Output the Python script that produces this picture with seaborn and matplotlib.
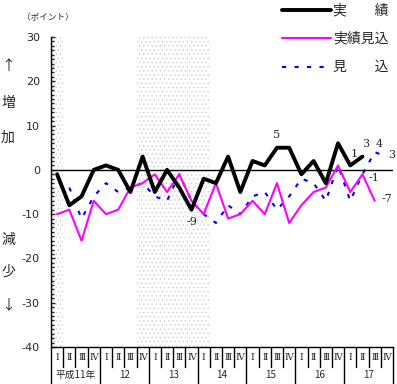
import matplotlib
matplotlib.use('Agg')
import matplotlib.pyplot as plt
from matplotlib.lines import Line2D
from matplotlib.ticker import MultipleLocator
import pandas as pd
import seaborn as sns

# 四半期ラベル
years = ['平成11年', '12', '13', '14', '15', '16', '17']
quarters = ['Ⅰ', 'Ⅱ', 'Ⅲ', 'Ⅳ']

# 実績 (平成11年Ⅰ期から)
jisseki = [-1, -8, -6, 0, 1, 0, -5, 3, -5, 0, -4, -9, -2, -3, 3, -5, 2, 1,
           5, 5, -1, 2, -3, 6, 1, 3]
# 実績見込 (平成11年Ⅰ期から)
jisseki_mikomi = [-10, -9, -16, -7, -10, -9, -4, -3, -1, -5, -1, -7, -10, -3,
                  -11, -10, -7, -10, -3, -12, -8, -5, -4, 1, -5, -1, -7]
# 見込 (平成11年Ⅱ期から)
mikomi = [-4, -11, -6, -3, -5, -4, -3, -6, -7, -1, -7, -10, -12, -8, -10, -6,
          -5, -9, -6, -2, -3, -7, 1, -7, -1, 4, 3]
mikomi_start = 1

# 景気後退期 (四半期番号、両端含む)
recessions = [(0, 0), (7, 12)]

JP = 'Noto Sans CJK JP'


def main():
    sns.set_style('white')
    plt.rcParams['font.family'] = ['DejaVu Sans', JP]

    n_q = len(years) * len(quarters)
    df1 = pd.DataFrame({'q': range(len(jisseki)), 'v': jisseki})
    df2 = pd.DataFrame({'q': range(len(jisseki_mikomi)), 'v': jisseki_mikomi})
    df3 = pd.DataFrame({'q': range(mikomi_start, mikomi_start + len(mikomi)), 'v': mikomi})

    fig = plt.figure(figsize=(3.97, 3.84), dpi=100)
    ax = fig.add_axes([51 / 397, 37 / 384, 342 / 397, 310 / 384])

    plt.rcParams['hatch.linewidth'] = 0.5
    for a, b in recessions:
        ax.axvspan(a - 0.5, b + 0.5, facecolor='white', edgecolor='#cdcdcd',
                   hatch='....', lw=0, zorder=0)

    ax.axhline(0, color='black', lw=1, zorder=1)

    sns.lineplot(data=df3, x='q', y='v', ax=ax, color='#0000ff', lw=1.5,
                 linestyle=(0, (2, 4)), zorder=2)
    sns.lineplot(data=df2, x='q', y='v', ax=ax, color='#ff00ff', lw=1.5, zorder=3)
    sns.lineplot(data=df1, x='q', y='v', ax=ax, color='black', lw=2.8, zorder=4)

    ax.set_xlim(-0.5, n_q - 0.5)
    ax.set_ylim(-40, 30)
    ax.set_xlabel('')
    ax.set_ylabel('')
    ax.set_xticks([])
    ax.yaxis.set_major_locator(MultipleLocator(10))
    ax.yaxis.set_minor_locator(MultipleLocator(1))
    ax.tick_params(axis='y', which='major', direction='in', length=3, width=1,
                   pad=8, labelsize=8, left=True)
    ax.tick_params(axis='y', which='minor', direction='in', length=2, width=1, left=True)
    ax.set_yticks(range(-40, 31, 10))
    ax.set_yticklabels([f'{t}' for t in range(-40, 31, 10)])
    for s in ['top', 'right']:
        ax.spines[s].set_visible(False)
    for s in ['left', 'bottom']:
        ax.spines[s].set_color('black')
        ax.spines[s].set_linewidth(1)

    # x軸の区切りとラベル
    tr = ax.get_xaxis_transform()
    h = 310.0
    for k in range(n_q + 1):
        x = k - 0.5
        y0 = -37 / h if k % 4 == 0 else -20 / h
        ax.add_line(Line2D([x, x], [0, y0], transform=tr, color='black', lw=1,
                           clip_on=False))
        if k < n_q:
            ax.text(k, -10 / h, quarters[k % 4], transform=tr, ha='center',
                    va='center', fontsize=6.5, family=['DejaVu Serif', JP])
    for i, yl in enumerate(years):
        ax.text(i * 4 + 1.5, -28 / h, yl, transform=tr, ha='center', va='center',
                fontsize=7, family=JP)

    # 数値ラベル
    serif = 'DejaVu Serif'
    notes = [
        (18, jisseki[18], '5', (0, 9), 'center'),
        (11, jisseki[11], '-9', (0, -9), 'center'),
        (24, jisseki[24], '1', (3, 8), 'center'),
        (25, jisseki[25], '3', (2, 9), 'center'),
        (26, mikomi[26 - mikomi_start], '4', (3, 6), 'center'),
        (27, mikomi[27 - mikomi_start], '3', (1, 1), 'left'),
        (25, jisseki_mikomi[25], '-1', (4, -3), 'left'),
        (26, jisseki_mikomi[26], '-7', (5, 1), 'left'),
    ]
    for x, y, s, off, ha in notes:
        ax.annotate(s, (x, y), xytext=off, textcoords='offset points', ha=ha,
                    va='center', fontsize=8, family=serif)

    # 左側の文字
    fig.text(48 / 397, 1 - 18 / 384, '（ポイント）', ha='center', va='center',
             fontsize=6.2, family=JP)
    for ch, yp in [('↑', 66), ('増', 103), ('加', 138), ('減', 240), ('少', 272), ('↓', 305)]:
        fig.text(8 / 397, 1 - yp / 384, ch, ha='center', va='center',
                 fontsize=10, family=[JP, 'DejaVu Sans'])

    # 凡例
    leg = [('black', 2.8, '-', '実　　績', 10),
           ('#ff00ff', 1.5, '-', '実績見込', 38),
           ('#0000ff', 1.5, (0, (2, 4)), '見　　込', 67)]
    for c, lw, ls, lab, yp in leg:
        yy = 1 - yp / 384
        fig.add_artist(Line2D([282 / 397, 331 / 397], [yy, yy], color=c, lw=lw,
                              linestyle=ls))
        fig.text(333 / 397, yy, lab, ha='left', va='center', fontsize=10, family=JP)

    fig.savefig('out.png', dpi=100)


if __name__ == '__main__':
    main()
